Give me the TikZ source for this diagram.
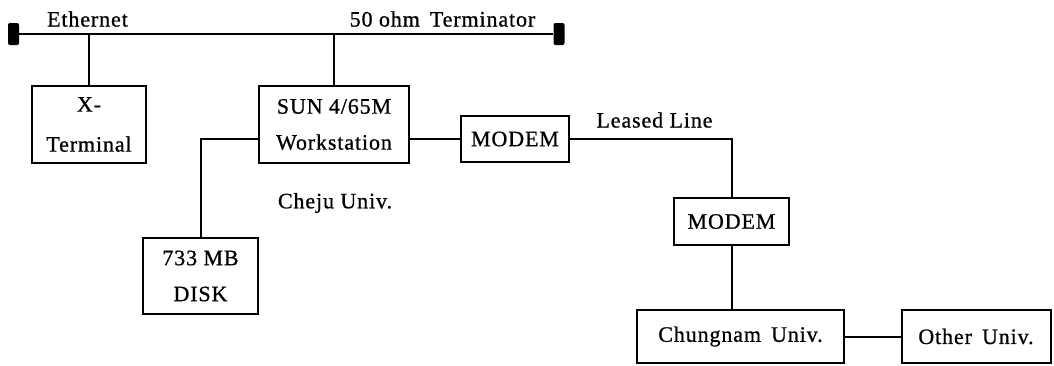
\documentclass[tikz,border=0pt]{standalone}
\usepackage{fontspec}
\setmainfont{Liberation Serif}[LetterSpace=4,FakeBold=0.8]
\begin{document}
\begin{tikzpicture}[x=1pt,y=-1pt,
  every node/.style={font=\fontsize{22}{36}\selectfont},
  box/.style={draw,line width=2pt,align=center,inner sep=0pt},
  term/.style={fill=black,rounded corners=2pt,minimum width=11pt,minimum height=22pt,inner sep=0pt},
  wire/.style={line width=2pt},
  lbl/.style={inner sep=0pt}]
\useasboundingbox (0,0) rectangle (1054,365);
% terminators
\node[term] (tL) at (13.5,34) {};
\node[term] (tR) at (559,34) {};
\draw[wire] (tL) -- (tR);
\node[lbl] (eth) at (87.5,19) {Ethernet};
\node[lbl] (ohm) at (442.5,19) {50 ohm\, Terminator};
% boxes
\node[box,minimum width=114pt,minimum height=77pt] (xterm) at (89,124.5) {X-\\[4pt]Terminal};
\node[box,minimum width=150pt,minimum height=77pt] (sun) at (334,124.5) {SUN 4/65M\\Workstation};
\node[box,minimum width=115pt,minimum height=76pt] (disk) at (200.5,276) {733 MB\\DISK};
\node[box,minimum width=108pt,minimum height=46pt] (modemA) at (515,139) {MODEM};
\node[box,minimum width=115pt,minimum height=47pt] (modemB) at (731.5,221.5) {MODEM};
\node[box,minimum width=207pt,minimum height=53pt] (chung) at (740.5,336.5) {Chungnam\, Univ.};
\node[box,minimum width=149pt,minimum height=53pt] (other) at (976,336.5) {Other\, Univ.};
\node[lbl] (lease) at (654.5,120) {Leased Line};
\node[lbl] (cheju) at (335,203) {Cheju Univ.};
% connectors
\draw[wire] (xterm.north) -- (xterm.north |- tL);
\draw[wire] (sun.north) -- (sun.north |- tL);
\draw[wire] (sun.east |- modemA.west) -- (modemA.west);
\draw[wire] (sun.west |- modemA.west) -| (disk.north);
\draw[wire] (modemA.east) -| (modemB.north);
\draw[wire] (modemB.south) -- (modemB.south |- chung.north);
\draw[wire] (chung.east) -- (other.west);
\end{tikzpicture}
\end{document}
